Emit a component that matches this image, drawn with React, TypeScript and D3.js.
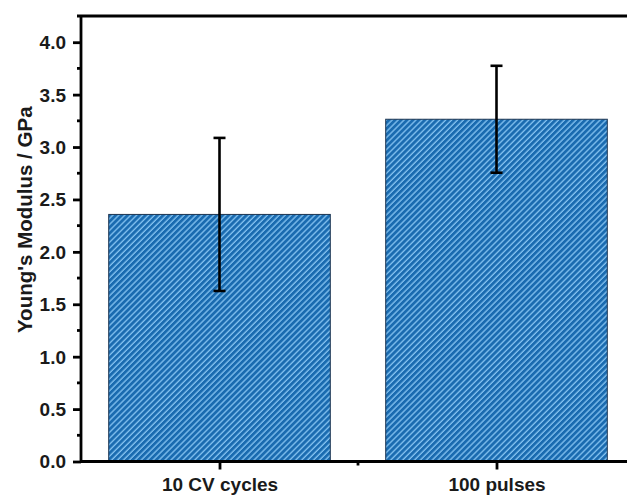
import React, { useEffect, useRef } from 'react';
import * as d3 from 'd3';

// chart values
const categories = ['10 CV cycles', '100 pulses'];
const means = [2.357, 3.265];
const errors = [0.73, 0.51];
const yTicks = [0, 0.5, 1.0, 1.5, 2.0, 2.5, 3.0, 3.5, 4.0];

const width = 627;
const height = 495;

const App = () => {
    const ref = useRef<SVGSVGElement | null>(null);

    useEffect(() => {
        const svg = d3.select(ref.current);
        svg.selectAll('*').remove();

        const left = 81;
        const right = 635; // plot runs past the picture's right edge
        const top = 16;
        const bottom = 461.5;
        const font = 'Liberation Sans, Arial, sans-serif';

        const x = d3.scaleLinear().domain([0.5, 2.5]).range([left, right]);
        const y = d3.scaleLinear().domain([0, 4.25]).range([bottom, top]);

        // hatch pattern
        const defs = svg.append('defs');
        const pat = defs.append('pattern')
            .attr('id', 'hatch')
            .attr('patternUnits', 'userSpaceOnUse')
            .attr('width', 4.2)
            .attr('height', 10)
            .attr('patternTransform', 'rotate(45)');
        pat.append('rect').attr('width', 4.2).attr('height', 10).attr('fill', '#1a6bb0');
        pat.append('line')
            .attr('x1', 1).attr('x2', 1).attr('y1', 0).attr('y2', 10)
            .attr('stroke', '#86c4f2')
            .attr('stroke-width', 1.3);

        const barW = 0.8;

        // bars
        svg.selectAll('rect.bar')
            .data(means)
            .enter()
            .append('rect')
            .attr('class', 'bar')
            .attr('x', (d, i) => x(i + 1 - barW / 2))
            .attr('width', x(1 + barW / 2) - x(1 - barW / 2))
            .attr('y', d => y(d))
            .attr('height', d => y(0) - y(d))
            .attr('fill', 'url(#hatch)')
            .attr('stroke', '#1d3550')
            .attr('stroke-width', 1);

        // error bars
        const eb = svg.selectAll('g.err')
            .data(means)
            .enter()
            .append('g')
            .attr('class', 'err')
            .attr('stroke', '#000')
            .attr('stroke-width', 2.6);
        eb.append('line')
            .attr('x1', (d, i) => x(i + 1)).attr('x2', (d, i) => x(i + 1))
            .attr('y1', (d, i) => y(d + errors[i])).attr('y2', (d, i) => y(d - errors[i]));
        eb.append('line')
            .attr('x1', (d, i) => x(i + 1) - 6).attr('x2', (d, i) => x(i + 1) + 6)
            .attr('y1', (d, i) => y(d + errors[i])).attr('y2', (d, i) => y(d + errors[i]));
        eb.append('line')
            .attr('x1', (d, i) => x(i + 1) - 6).attr('x2', (d, i) => x(i + 1) + 6)
            .attr('y1', (d, i) => y(d - errors[i])).attr('y2', (d, i) => y(d - errors[i]));

        // top frame line
        svg.append('line')
            .attr('x1', left - 4).attr('x2', width)
            .attr('y1', top).attr('y2', top)
            .attr('stroke', '#000').attr('stroke-width', 2.8);

        // y axis
        const yAxis = svg.append('g')
            .attr('transform', `translate(${left},0)`)
            .call(d3.axisLeft(y).tickValues(yTicks).tickSize(8).tickSizeOuter(0).tickFormat(d3.format('.1f')));
        yAxis.select('.domain').attr('stroke-width', 2.8).attr('d', `M0,${top}V${bottom + 1}`);
        yAxis.selectAll('.tick line').attr('stroke-width', 2.8);
        yAxis.selectAll('.tick text')
            .attr('x', -15)
            .attr('dy', '0.34em')
            .style('font-family', font)
            .style('font-weight', 'bold')
            .style('font-size', '19px')
            .attr('fill', '#1a1a1a');

        // y minor ticks
        svg.append('g')
            .selectAll('line')
            .data(d3.range(0.25, 4.25, 0.5))
            .enter()
            .append('line')
            .attr('x1', left - 4).attr('x2', left)
            .attr('y1', d => y(d)).attr('y2', d => y(d))
            .attr('stroke', '#000').attr('stroke-width', 2.8);

        // x axis
        const xAxis = svg.append('g')
            .attr('transform', `translate(0,${bottom})`)
            .call(d3.axisBottom(x).tickValues([1, 2]).tickSize(8).tickSizeOuter(0)
                .tickFormat((d, i) => categories[i]));
        xAxis.select('.domain').attr('stroke-width', 2.8).attr('d', `M${left - 1},0H${width}`);
        xAxis.selectAll('.tick line').attr('stroke-width', 2.8);
        xAxis.selectAll('.tick text')
            .attr('y', 16)
            .style('font-family', font)
            .style('font-weight', 'bold')
            .style('font-size', '19px')
            .attr('fill', '#1a1a1a');

        // x minor tick
        svg.append('line')
            .attr('x1', x(1.5)).attr('x2', x(1.5))
            .attr('y1', bottom).attr('y2', bottom + 4)
            .attr('stroke', '#000').attr('stroke-width', 2.8);

        // y axis title
        svg.append('text')
            .attr('transform', `translate(32,${(top + bottom) / 2 - 19}) rotate(-90)`)
            .attr('text-anchor', 'middle')
            .style('font-family', font)
            .style('font-weight', 'bold')
            .style('font-size', '20.5px')
            .attr('fill', '#1a1a1a')
            .text("Young's Modulus / GPa");
    }, []);

    return (
        <svg ref={ref} width={width} height={height}
            style={{ position: 'absolute', left: 0, top: 0, background: '#fff' }} />
    );
};

export default App;
